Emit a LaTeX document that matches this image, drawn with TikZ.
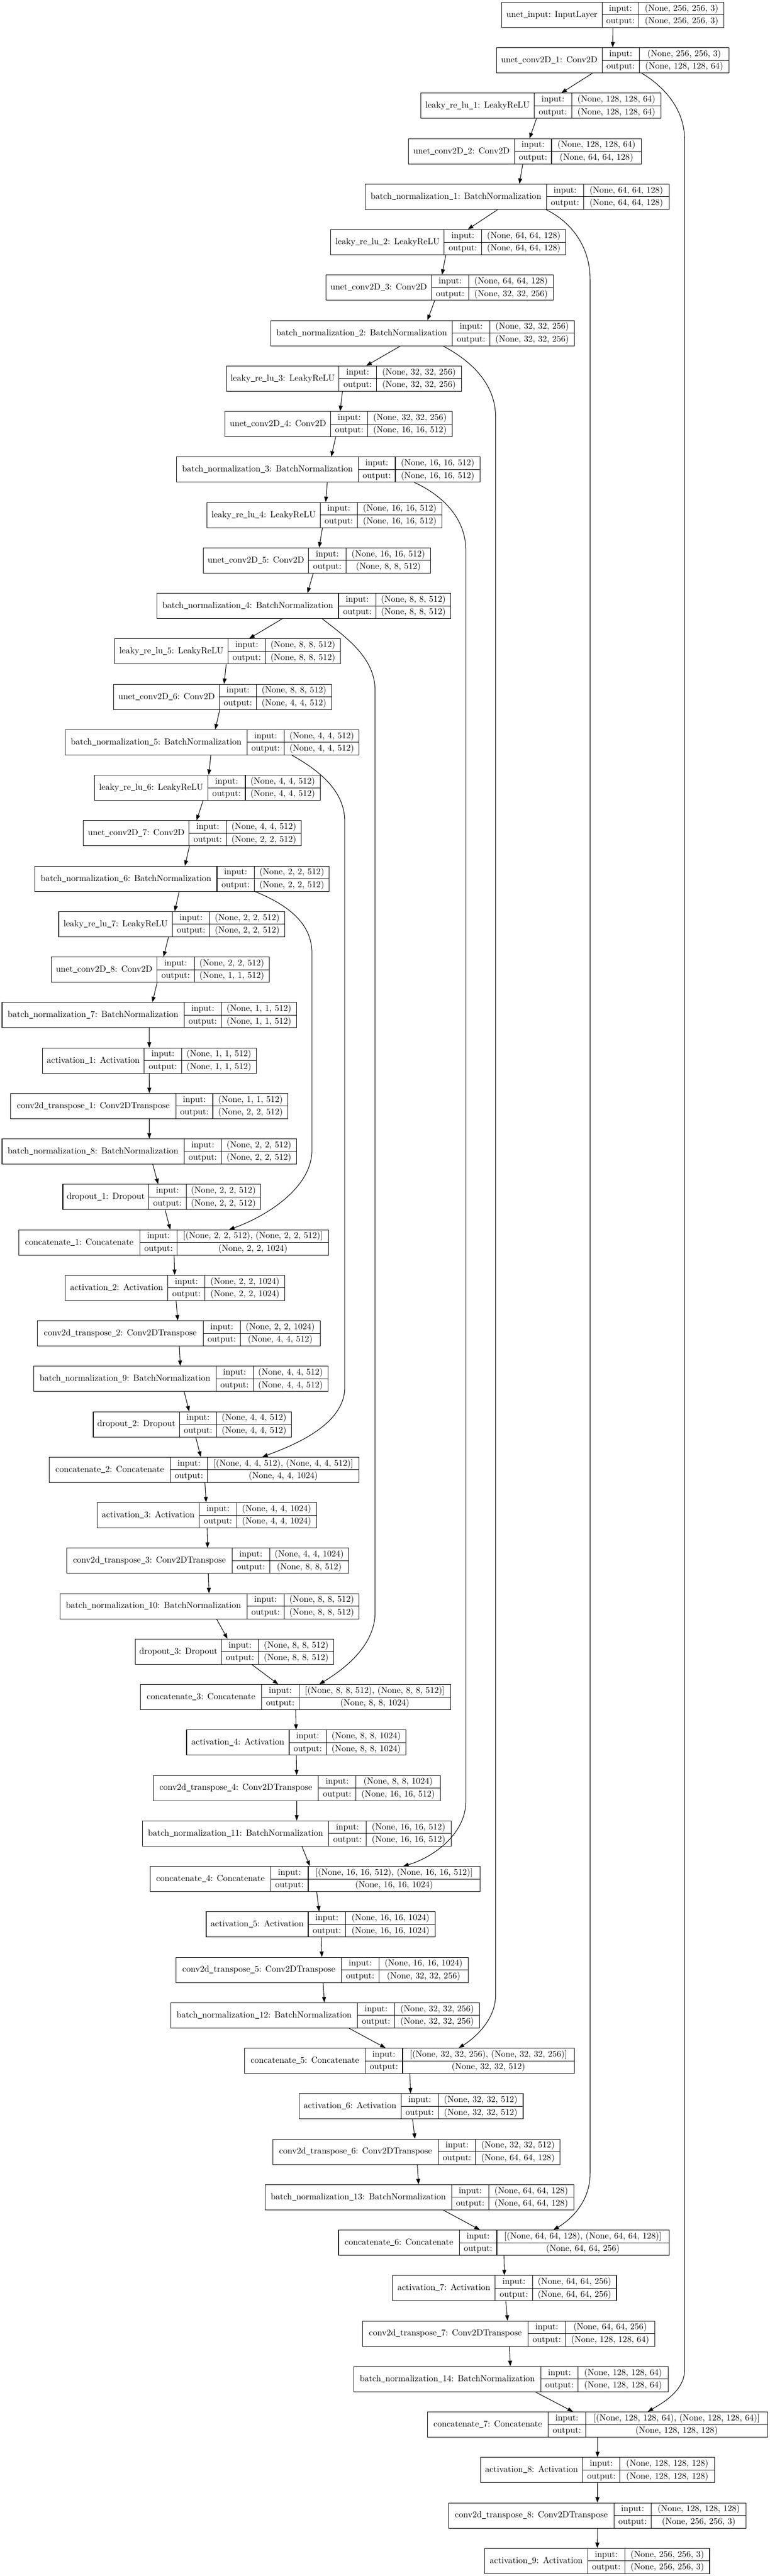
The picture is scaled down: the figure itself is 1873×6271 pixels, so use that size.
\documentclass[tikz,border=0pt]{standalone}
\usepackage{graphicx}
\usetikzlibrary{arrows.meta,calc}
\tikzset{
  recbox/.style={draw=black, line width=0.67pt, fill=none, inner sep=0pt},
  divline/.style={draw=black, line width=0.67pt},
  txt/.style={anchor=base, inner sep=0pt, font=\fontsize{10.7}{13}\selectfont, text=black},
  arr/.style={draw=black, line width=0.67pt, -{Triangle[length=6.6pt,width=4.8pt]}},
  skipline/.style={draw=black, line width=0.67pt, -{Triangle[length=6.6pt,width=4.8pt]}}
}
\newcommand\us{\kern0.02em\rule[-0.1em]{0.46em}{0.055em}\kern0.02em}
\renewcommand{\_}{\us}
\newsavebox\fitbox
\newcommand\fitw[2]{\sbox\fitbox{#2}\pgfmathsetmacro\fr{min(1,(#1)/\wd\fitbox)}\scalebox{\fr}[1]{\usebox\fitbox}}
\newcommand\layer[9]{%
  \pgfmathsetmacro\Ty{5.5+(#2-1)*110.68}%
  \pgfmathsetmacro\My{\Ty+30.75}%
  \pgfmathsetmacro\By{\Ty+61.5}%
  \node[recbox, minimum width={(#6-#3)*0.5}, minimum height=30.75] (#1) at ({(#3+#6)/2},\My) {};
  \draw[divline] (#4,\Ty) -- (#4,\By) (#5,\Ty) -- (#5,\By) (#4,\My) -- (#6,\My);
  \node[txt] at ({(#3+#4)/2},{\My+5.5}) {\fitw{(#4-#3-16)*0.5}{#7}};
  \node[txt] at ({(#4+#5)/2},{\Ty+21}) {input:};
  \node[txt] at ({(#4+#5)/2},{\Ty+51.7}) {output:};
  \node[txt] at ({(#5+#6)/2},{\Ty+21}) {\fitw{(#6-#5-14)*0.5}{#8}};
  \node[txt] at ({(#5+#6)/2},{\Ty+51.7}) {\fitw{(#6-#5-14)*0.5}{#9}};
}
\begin{document}
\begin{tikzpicture}[x=0.5pt,y=-0.5pt]
\fill[white] (0,0) rectangle (1873,6271);
\useasboundingbox (0,0) rectangle (1873,6271);

\layer{inp}{1}{1221}{1465}{1555}{1762}{unet\_input: InputLayer}{(None, 256, 256, 3)}{(None, 256, 256, 3)}
\layer{cv1}{2}{1208}{1465}{1556}{1774}{unet\_conv2D\_1: Conv2D}{(None, 256, 256, 3)}{(None, 128, 128, 64)}
\layer{lr1}{3}{1024}{1300}{1391}{1609}{leaky\_re\_lu\_1: LeakyReLU}{(None, 128, 128, 64)}{(None, 128, 128, 64)}
\layer{cv2}{4}{994}{1252}{1342}{1561}{unet\_conv2D\_2: Conv2D}{(None, 128, 128, 64)}{(None, 64, 64, 128)}
\layer{bn1}{5}{889}{1330}{1420}{1628}{batch\_normalization\_1: BatchNormalization}{(None, 64, 64, 128)}{(None, 64, 64, 128)}
\layer{lr2}{6}{805}{1081}{1172}{1377}{leaky\_re\_lu\_2: LeakyReLU}{(None, 64, 64, 128)}{(None, 64, 64, 128)}
\layer{cv3}{7}{793}{1050}{1141}{1346}{unet\_conv2D\_3: Conv2D}{(None, 64, 64, 128)}{(None, 32, 32, 256)}
\layer{bn2}{8}{659}{1101}{1192}{1398}{batch\_normalization\_2: BatchNormalization}{(None, 32, 32, 256)}{(None, 32, 32, 256)}
\layer{lr3}{9}{551}{825}{916}{1123}{leaky\_re\_lu\_3: LeakyReLU}{(None, 32, 32, 256)}{(None, 32, 32, 256)}
\layer{cv4}{10}{548}{805}{895}{1100}{unet\_conv2D\_4: Conv2D}{(None, 32, 32, 256)}{(None, 16, 16, 512)}
\layer{bn3}{11}{430}{872}{962}{1168}{batch\_normalization\_3: BatchNormalization}{(None, 16, 16, 512)}{(None, 16, 16, 512)}
\layer{lr4}{12}{504}{779}{870}{1076}{leaky\_re\_lu\_4: LeakyReLU}{(None, 16, 16, 512)}{(None, 16, 16, 512)}
\layer{cv5}{13}{494.5}{751}{842}{1048}{unet\_conv2D\_5: Conv2D}{(None, 16, 16, 512)}{(None, 8, 8, 512)}
\layer{bn4}{14}{382}{824}{915}{1096.5}{batch\_normalization\_4: BatchNormalization}{(None, 8, 8, 512)}{(None, 8, 8, 512)}
\layer{lr5}{15}{279.5}{555}{646}{828}{leaky\_re\_lu\_5: LeakyReLU}{(None, 8, 8, 512)}{(None, 8, 8, 512)}
\layer{cv6}{16}{277}{534}{624}{807}{unet\_conv2D\_6: Conv2D}{(None, 8, 8, 512)}{(None, 4, 4, 512)}
\layer{bn5}{17}{159}{601}{692}{874}{batch\_normalization\_5: BatchNormalization}{(None, 4, 4, 512)}{(None, 4, 4, 512)}
\layer{lr6}{18}{230}{506}{597}{779}{leaky\_re\_lu\_6: LeakyReLU}{(None, 4, 4, 512)}{(None, 4, 4, 512)}
\layer{cv7}{19}{203}{460}{551}{733}{unet\_conv2D\_7: Conv2D}{(None, 4, 4, 512)}{(None, 2, 2, 512)}
\layer{bn6}{20}{85}{528}{619}{801}{batch\_normalization\_6: BatchNormalization}{(None, 2, 2, 512)}{(None, 2, 2, 512)}
\layer{lr7}{21}{143}{420}{510}{693}{leaky\_re\_lu\_7: LeakyReLU}{(None, 2, 2, 512)}{(None, 2, 2, 512)}
\layer{cv8}{22}{125}{382}{473}{655}{unet\_conv2D\_8: Conv2D}{(None, 2, 2, 512)}{(None, 1, 1, 512)}
\layer{bn7}{23}{5}{448}{539}{721.5}{batch\_normalization\_7: BatchNormalization}{(None, 1, 1, 512)}{(None, 1, 1, 512)}
\layer{ac1}{24}{103}{351}{442}{623.5}{activation\_1: Activation}{(None, 1, 1, 512)}{(None, 1, 1, 512)}
\layer{ct1}{25}{26}{428}{518}{701}{conv2d\_transpose\_1: Conv2DTranspose}{(None, 1, 1, 512)}{(None, 2, 2, 512)}
\layer{bn8}{26}{5}{448}{539}{721.5}{batch\_normalization\_8: BatchNormalization}{(None, 2, 2, 512)}{(None, 2, 2, 512)}
\layer{do1}{27}{153}{362}{453}{634}{dropout\_1: Dropout}{(None, 2, 2, 512)}{(None, 2, 2, 512)}
\layer{cc1}{28}{45.5}{340.5}{431}{800}{concatenate\_1: Concatenate}{[(None, 2, 2, 512), (None, 2, 2, 512)]}{(None, 2, 2, 1024)}
\layer{ac2}{29}{159}{408.5}{499}{693}{activation\_2: Activation}{(None, 2, 2, 1024)}{(None, 2, 2, 1024)}
\layer{ct2}{30}{91}{494.5}{585}{779}{conv2d\_transpose\_2: Conv2DTranspose}{(None, 2, 2, 1024)}{(None, 4, 4, 512)}
\layer{bn9}{31}{82.5}{525.6}{616}{798}{batch\_normalization\_9: BatchNormalization}{(None, 4, 4, 512)}{(None, 4, 4, 512)}
\layer{do2}{32}{227}{437}{527}{709.5}{dropout\_2: Dropout}{(None, 4, 4, 512)}{(None, 4, 4, 512)}
\layer{cc2}{33}{119.5}{414.5}{505}{874}{concatenate\_2: Concatenate}{[(None, 4, 4, 512), (None, 4, 4, 512)]}{(None, 4, 4, 1024)}
\layer{ac3}{34}{236.5}{485}{576}{770.5}{activation\_3: Activation}{(None, 4, 4, 1024)}{(None, 4, 4, 1024)}
\layer{ct3}{35}{162.5}{565}{656}{849}{conv2d\_transpose\_3: Conv2DTranspose}{(None, 4, 4, 1024)}{(None, 8, 8, 512)}
\layer{bn10}{36}{145.7}{601}{691.6}{874}{batch\_normalization\_10: BatchNormalization}{(None, 8, 8, 512)}{(None, 8, 8, 512)}
\layer{do3}{37}{329.7}{538.7}{629.5}{812}{dropout\_3: Dropout}{(None, 8, 8, 512)}{(None, 8, 8, 512)}
\layer{cc3}{38}{341.6}{636.7}{727.5}{1096.5}{concatenate\_3: Concatenate}{[(None, 8, 8, 512), (None, 8, 8, 512)]}{(None, 8, 8, 1024)}
\layer{ac4}{39}{454}{703.6}{794}{988}{activation\_4: Activation}{(None, 8, 8, 1024)}{(None, 8, 8, 1024)}
\layer{ct4}{40}{372.7}{775}{866}{1071.5}{conv2d\_transpose\_4: Conv2DTranspose}{(None, 8, 8, 1024)}{(None, 16, 16, 512)}
\layer{bn11}{41}{346.4}{800}{891}{1097.7}{batch\_normalization\_11: BatchNormalization}{(None, 16, 16, 512)}{(None, 16, 16, 512)}
\layer{cc4}{42}{365.5}{659}{750}{1168}{concatenate\_4: Concatenate}{[(None, 16, 16, 512), (None, 16, 16, 512)]}{(None, 16, 16, 1024)}
\layer{ac5}{43}{501.7}{750}{841}{1059.5}{activation\_5: Activation}{(None, 16, 16, 1024)}{(None, 16, 16, 1024)}
\layer{ct5}{44}{428.8}{831}{922}{1139.6}{conv2d\_transpose\_5: Conv2DTranspose}{(None, 16, 16, 1024)}{(None, 32, 32, 256)}
\layer{bn12}{45}{415.7}{869.6}{960.4}{1167}{batch\_normalization\_12: BatchNormalization}{(None, 32, 32, 256)}{(None, 32, 32, 256)}
\layer{cc5}{46}{595}{888.7}{979.5}{1397.6}{concatenate\_5: Concatenate}{[(None, 32, 32, 256), (None, 32, 32, 256)]}{(None, 32, 32, 512)}
\layer{ac6}{47}{727.5}{976}{1066.7}{1273}{activation\_6: Activation}{(None, 32, 32, 512)}{(None, 32, 32, 512)}
\layer{ct6}{48}{664}{1066.7}{1157.5}{1363}{conv2d\_transpose\_6: Conv2DTranspose}{(None, 32, 32, 512)}{(None, 64, 64, 128)}
\layer{bn13}{49}{645}{1099}{1189.7}{1396}{batch\_normalization\_13: BatchNormalization}{(None, 64, 64, 128)}{(None, 64, 64, 128)}
\layer{cc6}{50}{824}{1118}{1209}{1628}{concatenate\_6: Concatenate}{[(None, 64, 64, 128), (None, 64, 64, 128)]}{(None, 64, 64, 256)}
\layer{ac7}{51}{955.6}{1205}{1296}{1500}{activation\_7: Activation}{(None, 64, 64, 256)}{(None, 64, 64, 256)}
\layer{ct7}{52}{882.7}{1285}{1376}{1593.5}{conv2d\_transpose\_7: Conv2DTranspose}{(None, 64, 64, 256)}{(None, 128, 128, 64)}
\layer{bn14}{53}{861}{1316}{1407}{1625.7}{batch\_normalization\_14: BatchNormalization}{(None, 128, 128, 64)}{(None, 128, 128, 64)}
\layer{cc7}{54}{1040}{1334}{1425}{1868}{concatenate\_7: Concatenate}{[(None, 128, 128, 64), (None, 128, 128, 64)]}{(None, 128, 128, 128)}
\layer{ac8}{55}{1169}{1418}{1508.7}{1739}{activation\_8: Activation}{(None, 128, 128, 128)}{(None, 128, 128, 128)}
\layer{ct8}{56}{1092}{1494}{1585}{1815.6}{conv2d\_transpose\_8: Conv2DTranspose}{(None, 128, 128, 128)}{(None, 256, 256, 3)}
\layer{ac9}{57}{1180}{1430}{1520.6}{1727}{activation\_9: Activation}{(None, 256, 256, 3)}{(None, 256, 256, 3)}

% main chain
\foreach \a/\b in {inp/cv1,cv1/lr1,lr1/cv2,cv2/bn1,bn1/lr2,lr2/cv3,cv3/bn2,bn2/lr3,lr3/cv4,cv4/bn3,bn3/lr4,lr4/cv5,cv5/bn4,bn4/lr5,lr5/cv6,cv6/bn5,bn5/lr6,lr6/cv7,cv7/bn6,bn6/lr7,lr7/cv8,cv8/bn7,bn7/ac1,ac1/ct1,ct1/bn8,bn8/do1,do1/cc1,cc1/ac2,ac2/ct2,ct2/bn9,bn9/do2,do2/cc2,cc2/ac3,ac3/ct3,ct3/bn10,bn10/do3,do3/cc3,cc3/ac4,ac4/ct4,ct4/bn11,bn11/cc4,cc4/ac5,ac5/ct5,ct5/bn12,bn12/cc5,cc5/ac6,ac6/ct6,ct6/bn13,bn13/cc6,cc6/ac7,ac7/ct7,ct7/bn14,bn14/cc7,cc7/ac8,ac8/ct8,ct8/ac9}
  \draw[arr] (\a) -- (\b);

% skip connections
\draw[skipline] ($(cv1.south west)+(354.5,0)$) .. controls (1615,210) and (1666,265) .. (1666,340)
  -- (1666,5769) .. controls (1666,5820) and (1612,5850) .. ($(cc7.north west)+(537,0)$);
\draw[skipline] ($(bn1.south west)+(440.5,0)$) .. controls (1390,540) and (1436,600) .. (1436,680)
  -- (1436,5291) .. controls (1436,5370) and (1375,5412) .. ($(cc6.north west)+(523.4,0)$);
\draw[skipline] ($(bn2.south west)+(420,0)$) .. controls (1140,875) and (1206,930) .. (1206,1015)
  -- (1206,4857) .. controls (1206,4920) and (1150,4965) .. ($(cc5.north west)+(522,0)$);
\draw[skipline] ($(bn3.south west)+(579,0)$) .. controls (1075,1205) and (1133.6,1260) .. (1133.6,1340)
  -- (1133.6,4385) .. controls (1133.6,4470) and (1045,4525) .. ($(cc4.north west)+(616.5,0)$);
\draw[skipline] ($(bn4.south west)+(403,0)$) .. controls (840,1550) and (912.6,1600) .. (912.6,1680)
  -- (912.6,3926) .. controls (912.6,4010) and (830,4068) .. ($(cc3.north west)+(436,0)$);
\draw[skipline] ($(bn5.south west)+(552,0)$) .. controls (785,1880) and (839,1930) .. (839,2000)
  -- (839,3377) .. controls (839,3470) and (710,3520) .. ($(cc2.north west)+(519.5,0)$);
\draw[skipline] ($(bn6.south west)+(537,0)$) .. controls (705,2205) and (759,2250) .. (759,2320)
  -- (759,2800) .. controls (759,2900) and (630,2968) .. ($(cc1.north west)+(512.5,0)$);
\end{tikzpicture}
\end{document}
